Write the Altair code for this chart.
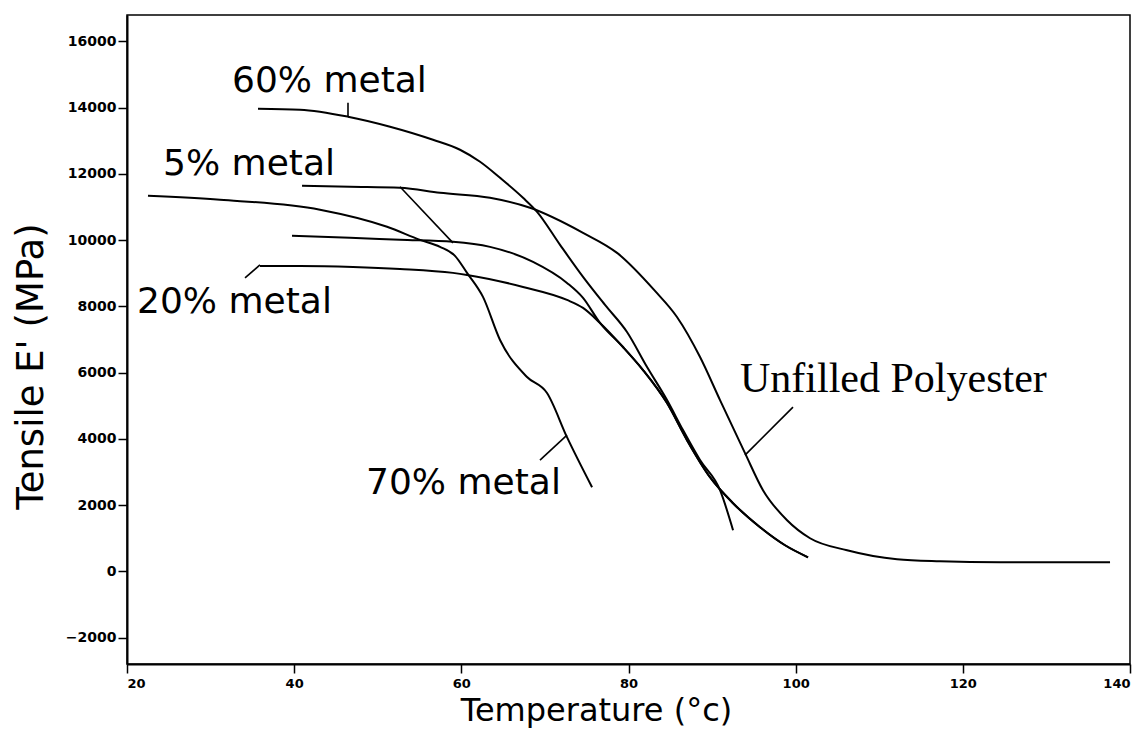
import altair as alt
import pandas as pd

# ---- curve data ----
c60_x = [35.67, 40.70, 46.44, 51.47, 56.61, 59.84, 62.24, 64.63, 67.38, 69.06, 71.81, 74.56, 77.19, 79.82, 82.22, 84.61, 86.52, 88.56, 90.95, 92.51]
c60_y = [13971, 13941, 13729, 13427, 13033, 12731, 12368, 11884, 11280, 10857, 9858, 8891, 8044, 7227, 6169, 5171, 4264, 3357, 2449, 1240]

c70_x = [22.51, 31.13, 43.09, 51.11, 55.06, 57.45, 59.24, 60.68, 62.59, 64.63, 67.86, 70.25, 72.64, 75.64]
c70_y = [11340, 11220, 10918, 10403, 10010, 9798, 9526, 9012, 8286, 6985, 5867, 5383, 4052, 2540]

unf_x = [40.94, 46.68, 52.66, 57.45, 63.43, 68.22, 74.56, 78.63, 83.17, 85.80, 88.56, 90.95, 93.94, 96.09, 98.97, 101.72, 106.15, 112.13, 117.27, 124.45, 137.61]
unf_y = [11642, 11612, 11582, 11431, 11280, 10977, 10221, 9616, 8467, 7681, 6471, 5171, 3568, 2449, 1542, 998, 635, 363, 302, 272, 272]

c20_x = [35.91, 40.70, 47.04, 52.66, 59.00, 60.68, 67.38, 72.64, 74.56, 76.59, 79.34, 81.74, 84.61, 87.00, 89.75, 92.51, 95.74, 98.73, 101.48]
c20_y = [9223, 9223, 9193, 9132, 9012, 8951, 8588, 8195, 7953, 7500, 6774, 6078, 5080, 3961, 2843, 2056, 1331, 786, 423]

c5_x = [39.74, 46.68, 52.66, 59.00, 63.43, 68.58, 72.64, 74.56, 76.59, 79.34, 81.74, 84.61, 87.00, 89.75, 92.51, 95.74, 98.73, 101.48]
c5_y = [10130, 10070, 10010, 9949, 9798, 9344, 8709, 8256, 7500, 6774, 6078, 5080, 3961, 2843, 2056, 1331, 786, 423]

# ---- leader lines ----
lead60_x = [46.44, 46.44]
lead60_y = [14150, 13730]
lead5_x = [52.66, 59.00]
lead5_y = [11612, 9919]
lead20_x = [34.12, 35.91]
lead20_y = [8860, 9253]
lead70_x = [72.64, 69.41]
lead70_y = [4113, 3357]
leadunf_x = [93.94, 99.68]
leadunf_y = [3508, 4959]

# ---- labels ----
sans_labels = ["60% metal", "5% metal", "20% metal", "70% metal"]
sans_lx = [32.56, 24.31, 21.20, 48.60]
sans_ly = [14485, 11975, 7802, 2328]
serif_labels = ["Unfilled Polyester"]
serif_lx = [93.34]
serif_ly = [5413]

x_ticks = [20, 40, 60, 80, 100, 120, 140]
y_ticks = [-2000, 0, 2000, 4000, 6000, 8000, 10000, 12000, 14000, 16000]


def series(name, xs, ys):
    return pd.DataFrame({"series": name, "T": xs, "E": ys, "i": range(len(xs))})


curves = pd.concat([
    series("60% metal", c60_x, c60_y),
    series("70% metal", c70_x, c70_y),
    series("Unfilled", unf_x, unf_y),
    series("20% metal", c20_x, c20_y),
    series("5% metal", c5_x, c5_y),
], ignore_index=True)

leaders = pd.concat([
    series("l60", lead60_x, lead60_y),
    series("l5", lead5_x, lead5_y),
    series("l20", lead20_x, lead20_y),
    series("l70", lead70_x, lead70_y),
    series("lunf", leadunf_x, leadunf_y),
], ignore_index=True)

sans_df = pd.DataFrame({"label": sans_labels, "T": sans_lx, "E": sans_ly})
serif_df = pd.DataFrame({"label": serif_labels, "T": serif_lx, "E": serif_ly})

xscale = alt.Scale(domain=[20, 140], nice=False, zero=False)
yscale = alt.Scale(domain=[-2800, 16800], nice=False, zero=False)

tick_font = "DejaVu Sans"

xaxis = alt.Axis(
    values=x_ticks, format="d", title="Temperature (°c)", grid=False,
    domainColor="black", domainWidth=2, tickColor="black", tickWidth=1.5, tickSize=9,
    labelFont=tick_font, labelFontWeight="bold", labelFontSize=13, labelColor="black",
    labelPadding=4, titleFont="DejaVu Sans", titleFontSize=32, titleFontWeight="normal",
    titleColor="black", titleX=469, titleY=56, titleAlign="center", titleBaseline="alphabetic",
)
yaxis = alt.Axis(
    values=y_ticks, format="d", title="Tensile E' (MPa)", grid=False,
    domainColor="black", domainWidth=2, tickColor="black", tickWidth=1.5, tickSize=9,
    labelFont=tick_font, labelFontWeight="bold", labelFontSize=14, labelColor="black",
    labelPadding=2, titleFont="DejaVu Sans", titleFontSize=37, titleFontWeight="normal",
    titleColor="black", titleX=-85, titleY=351, titleAngle=270, titleAlign="center",
    titleBaseline="alphabetic",
)

curve_layer = alt.Chart(curves).mark_line(
    color="black", strokeWidth=2, interpolate="monotone"
).encode(
    x=alt.X("T:Q", scale=xscale, axis=xaxis),
    y=alt.Y("E:Q", scale=yscale, axis=yaxis),
    detail="series:N",
    order="i:Q",
)

leader_layer = alt.Chart(leaders).mark_line(color="black", strokeWidth=1.6).encode(
    x=alt.X("T:Q", scale=xscale),
    y=alt.Y("E:Q", scale=yscale),
    detail="series:N",
    order="i:Q",
)

sans_layer = alt.Chart(sans_df).mark_text(
    align="left", baseline="alphabetic", font="DejaVu Sans", fontSize=36, color="black"
).encode(x=alt.X("T:Q", scale=xscale), y=alt.Y("E:Q", scale=yscale), text="label:N")

serif_layer = alt.Chart(serif_df).mark_text(
    align="left", baseline="alphabetic", font="Liberation Serif", fontSize=42, color="black"
).encode(x=alt.X("T:Q", scale=xscale), y=alt.Y("E:Q", scale=yscale), text="label:N")

chart = alt.layer(curve_layer, leader_layer, sans_layer, serif_layer).properties(
    width=1003,
    height=649,
    autosize=alt.AutoSizeParams(type="none"),
    padding={"left": 127, "top": 15, "right": 15, "bottom": 77},
    background="white",
).configure_view(stroke="black", strokeWidth=1.5)

chart.save("out.html", embed_options={"renderer": "svg", "actions": False})
